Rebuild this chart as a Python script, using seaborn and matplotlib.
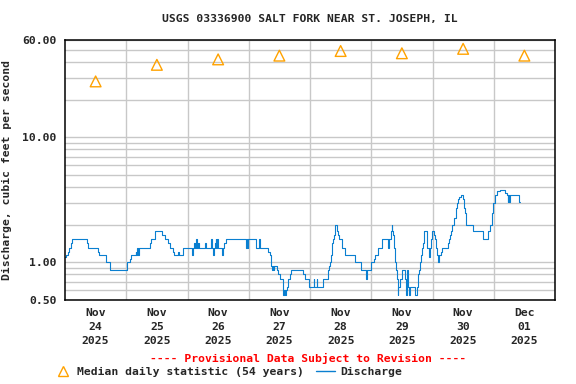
import pandas as pd
import numpy as np
import matplotlib
matplotlib.use("Agg")
import matplotlib.pyplot as plt
import matplotlib.dates as mdates
from matplotlib.ticker import FixedLocator, NullFormatter
from matplotlib.lines import Line2D
import seaborn as sns

# Discharge (cfs), step changes: hours after Nov 24 2025 00:00
hours = [0, 0.5, 1.2, 1.7, 2.2, 2.8, 8.6, 9.0, 13.0, 13.4, 16.0, 17.5, 24.3, 25.4, 25.9,
         27.7, 28.0, 28.3, 28.5, 28.9, 33.2, 33.6, 35.4, 38.1, 39.0, 40.5, 41.1, 42.5, 42.9,
         44.3, 44.7, 46.4, 49.6, 50.0, 50.7, 50.9, 51.5, 51.7, 52.3, 52.5, 55.0, 55.3,
         57.2, 57.5, 58.0, 58.3, 58.8, 59.1, 59.3, 59.6, 60.0, 61.5, 61.8, 62.2, 62.9,
         71.1, 71.3, 71.6, 71.8, 74.8, 76.2, 76.5, 79.4, 80.3, 80.6, 80.9, 81.3, 81.5, 81.8,
         82.0, 82.9, 83.5, 84.2, 85.3, 85.6, 85.9, 86.2, 86.5, 86.8, 87.5, 88.1, 88.7,
         93.3, 94.0, 95.7, 97.5, 97.7, 98.6, 98.8, 100.9, 102.9, 103.2, 103.6, 104.0,
         104.3, 104.5, 104.8, 105.1, 105.4, 105.6, 105.8, 106.4, 107.1, 107.4, 108.4,
         109.7, 113.6, 115.8, 116.1, 117.8, 118.2, 118.4, 119.9, 121.1, 121.5, 122.8,
         124.1, 126.7, 127.1, 127.7, 128.0, 128.3, 128.6, 128.8, 129.1, 129.3, 129.6,
         130.0, 130.3, 130.5, 130.6, 131.3, 131.9, 133.2, 133.5, 133.7, 133.9, 134.2,
         134.5, 134.9, 135.2, 137.2, 137.8, 138.2, 138.5, 138.9, 139.2, 139.4, 139.7,
         140.2, 140.5, 140.8, 141.7, 142.0, 142.5, 142.8, 143.1, 143.4, 143.7, 144.7,
         145.0, 145.4, 145.8, 146.2, 146.7, 147.2, 147.6, 150.2, 150.6, 150.9, 151.3,
         151.8, 152.6, 153.1, 153.4, 153.7, 154.1, 154.4, 155.1, 155.9, 156.2, 156.4,
         156.7, 157.0, 159.8, 163.7, 165.9, 166.6, 167.2, 167.9, 168.5, 169.2, 170.5,
         172.4, 173.1, 173.5, 173.7, 174.0, 174.2, 177.7, 178.3]
flow = [1.10, 1.14, 1.21, 1.31, 1.42, 1.53, 1.42, 1.31, 1.21, 1.14, 1.0, 0.87, 1.0, 1.06, 1.14,
        1.21, 1.14, 1.31, 1.14, 1.31, 1.42, 1.53, 1.77, 1.65, 1.53, 1.42, 1.31, 1.21, 1.14,
        1.21, 1.14, 1.31, 1.14, 1.31, 1.42, 1.31, 1.53, 1.31, 1.42, 1.31, 1.42, 1.31,
        1.53, 1.31, 1.14, 1.31, 1.42, 1.53, 1.31, 1.53, 1.31, 1.14, 1.31, 1.42, 1.53,
        1.31, 1.53, 1.31, 1.53, 1.31, 1.53, 1.31, 1.21, 1.14, 1.0, 0.93, 0.87, 0.93, 0.87,
        0.93, 0.87, 0.80, 0.73, 0.64, 0.55, 0.60, 0.55, 0.60, 0.64, 0.73, 0.80, 0.87,
        0.80, 0.73, 0.64, 0.73, 0.64, 0.73, 0.64, 0.73, 0.80, 0.87, 0.93, 1.0,
        1.14, 1.31, 1.42, 1.53, 1.65, 1.77, 2.0, 1.77, 1.65, 1.53, 1.31,
        1.14, 1.0, 0.93, 0.87, 0.73, 0.80, 0.87, 1.0, 1.06, 1.14, 1.31,
        1.53, 1.31, 1.53, 1.77, 2.0, 1.77, 1.65, 1.53, 1.31, 1.0, 0.87,
        0.73, 0.64, 0.55, 0.64, 0.73, 0.87, 0.73, 0.64, 0.55, 0.73, 0.87,
        0.64, 0.55, 0.64, 0.55, 0.64, 0.73, 0.80, 0.87, 1.0, 1.14, 1.31,
        1.42, 1.53, 1.77, 1.53, 1.31, 1.21, 1.10, 1.31, 1.53, 1.77, 1.65,
        1.53, 1.31, 1.14, 1.0, 1.14, 1.21, 1.31, 1.42, 1.53, 1.65, 1.77,
        2.0, 2.25, 2.47, 2.72, 2.98, 3.19, 3.33, 3.43, 3.19, 2.98, 2.72,
        2.47, 2.0, 1.77, 1.53, 1.77, 2.0, 2.47, 2.98, 3.43, 3.72, 3.80,
        3.56, 3.48, 3.05, 3.48, 3.05, 3.48, 3.05, 3.05]

# Median daily statistic (54 years), plotted at noon of each day
median_days = ["2025-11-24", "2025-11-25", "2025-11-26", "2025-11-27",
               "2025-11-28", "2025-11-29", "2025-11-30", "2025-12-01"]
median_flow = [28, 38, 42, 45, 49, 47, 51, 45]

start = pd.Timestamp("2025-11-24")
df = pd.DataFrame({"time": start + pd.to_timedelta(hours, unit="h"), "flow": flow})
med = pd.DataFrame({"time": pd.to_datetime(median_days) + pd.Timedelta(hours=12),
                    "flow": median_flow})

sns.set_style("white")
plt.rcParams["font.family"] = ["DejaVu Sans Mono"]
plt.rcParams["font.weight"] = "bold"
fs = 8.2

fig = plt.figure(figsize=(5.76, 3.84), dpi=100)
ax = fig.add_axes([65 / 576, 1 - 300 / 384, 490 / 576, 260 / 384])

line_color = "#0a7fd0"
tri_color = "#ffa200"
sns.lineplot(data=df, x="time", y="flow", ax=ax, color=line_color, linewidth=0.8,
             drawstyle="steps-post", estimator=None)
sns.scatterplot(data=med, x="time", y="flow", ax=ax, marker="^", s=60,
                facecolor="none", edgecolor=tri_color, linewidth=1.0, zorder=3)

ax.set_yscale("log")
ax.set_ylim(0.5, 60)
ax.set_xlim(start, start + pd.Timedelta(days=8))

# y ticks / grid
ax.yaxis.set_major_locator(FixedLocator([0.5, 1, 10, 60]))
ax.set_yticklabels(["0.50", "1.00", "10.00", "60.00"])
ax.yaxis.set_minor_locator(FixedLocator([0.6, 0.7, 0.8, 0.9, 2, 3, 4, 5, 6, 7, 8, 9,
                                         20, 30, 40, 50]))
ax.yaxis.set_minor_formatter(NullFormatter())

# x ticks at noon, grid at midnight
noon = [start + pd.Timedelta(days=d, hours=12) for d in range(8)]
midnight = [start + pd.Timedelta(days=d) for d in range(1, 8)]
ax.xaxis.set_major_locator(FixedLocator(mdates.date2num(noon)))
ax.set_xticklabels([t.strftime("%b\n%d\n%Y") for t in noon])
ax.xaxis.set_minor_locator(FixedLocator(mdates.date2num(midnight)))

ax.grid(False)
ax.grid(True, which="minor", color="#c8c8c8", linewidth=1.0)
ax.yaxis.grid(True, which="major", color="#c8c8c8", linewidth=1.0)
ax.set_axisbelow(True)

ax.tick_params(axis="both", which="both", length=0, labelsize=fs)
ax.tick_params(axis="x", pad=6)
ax.tick_params(axis="y", pad=6)
for lab in ax.get_xticklabels():
    lab.set_linespacing(1.45)
for s in ax.spines.values():
    s.set_color("black")
    s.set_linewidth(1.1)

ax.set_xlabel("")
ax.set_ylabel("Discharge, cubic feet per second", fontsize=fs, fontweight="bold")
ax.yaxis.set_label_coords(-0.108, 0.5)

fig.text(310 / 576, 1 - 19 / 384, "USGS 03336900 SALT FORK NEAR ST. JOSEPH, IL",
         ha="center", va="center", fontsize=fs, fontweight="bold")
fig.text(308 / 576, 1 - 358 / 384, "---- Provisional Data Subject to Revision ----",
         ha="center", va="center", fontsize=fs, fontweight="bold", color="red")

handles = [Line2D([], [], marker="^", linestyle="none", markerfacecolor="none",
                  markeredgecolor=tri_color, markersize=7.5),
           Line2D([], [], color=line_color, linewidth=1.0)]
fig.legend(handles, ["Median daily statistic (54 years)", "Discharge"],
           loc="center left", bbox_to_anchor=(48 / 576, 1 - 372 / 384), ncol=2,
           frameon=False, fontsize=fs, handlelength=1.6, handletextpad=0.45,
           columnspacing=1.1, borderpad=0)

fig.savefig("out.png", dpi=100)
